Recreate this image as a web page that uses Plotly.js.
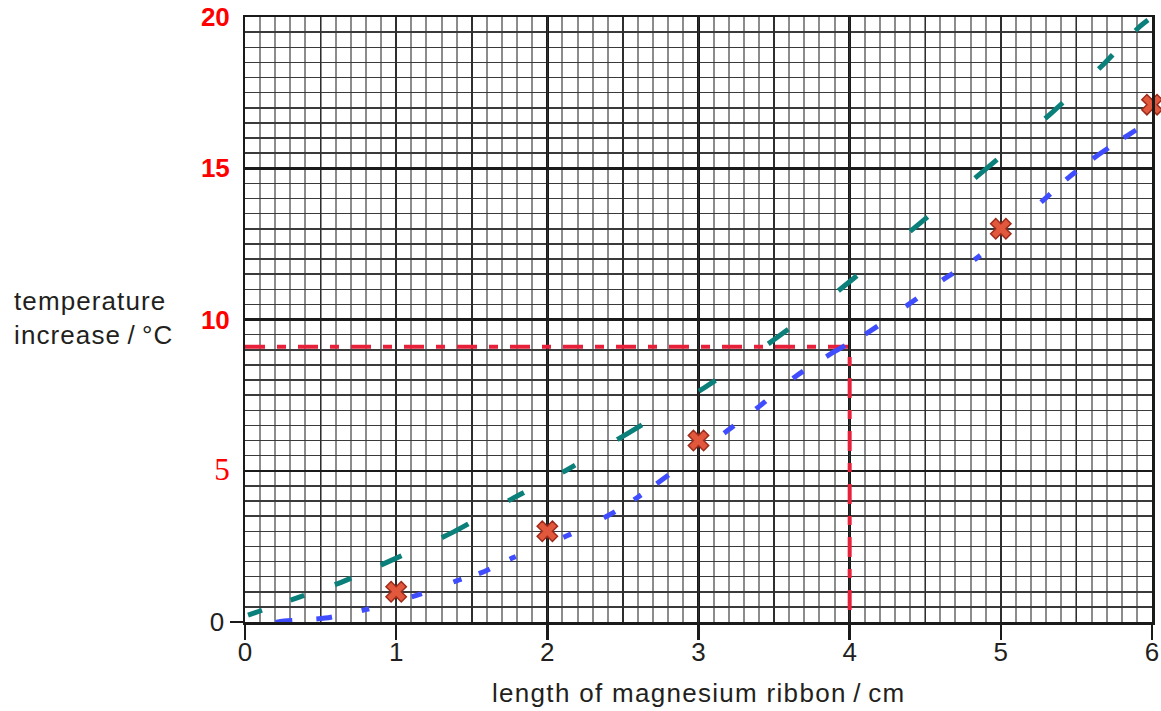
<!DOCTYPE html>
<html>
<head>
<meta charset="utf-8">
<script src="https://cdn.plot.ly/plotly-3.0.1.min.js"></script>
<style>html,body{margin:0;padding:0;background:#ffffff;}</style>
</head>
<body>
<div id="chart" style="width:1161px;height:711px;"></div>
<script>
// ---- data ----
const tealX = [0, 0.34, 0.64, 0.96, 1.38, 1.78, 2.12, 2.53, 3.04, 3.51, 3.97, 4.44, 4.89, 5.34, 5.68, 5.92, 6];
const tealY = [0.19, 0.79, 1.32, 2.02, 2.98, 4.11, 5.0, 6.23, 7.75, 9.37, 11.13, 13.08, 14.93, 16.85, 18.44, 19.69, 20.0];

const blueX = [0, 0.1, 0.26, 0.53, 0.79, 1.14, 1.4, 1.58, 1.77, 2.13, 2.41, 2.59, 2.75, 3.19, 3.4, 3.64, 3.89, 4.13, 4.39, 4.63, 4.83, 5.28, 5.45, 5.65, 5.84, 6];
const blueY = [-0.2, -0.1, 0.03, 0.13, 0.4, 0.89, 1.36, 1.66, 2.12, 2.85, 3.54, 4.1, 4.67, 6.32, 7.12, 8.11, 8.91, 9.6, 10.5, 11.36, 11.99, 13.94, 14.7, 15.46, 16.09, 16.6];

const readX = [0, 4, 4];
const readY = [9.1, 9.1, 0];

const pointX = [1, 2, 3, 5, 6];
const pointY = [1, 3, 6, 13, 17.1];

const xTickVals = [0, 1, 2, 3, 4, 5, 6];
const xTickText = ['0', '1', '2', '3', '4', '5', '6'];
const yZeroVals = [0];
const yZeroText = ['0'];
const yTickVals = [5, 10, 15, 20];
const yTickText = ['5', '10', '15', '20'];

const xTitle = 'length of magnesium ribbon\u2009/\u2009cm';
const yTitleLines = ['temperature', 'increase\u2009/\u2009°C'];

// ---- styling ----
const textFont = 'Liberation Sans, Arial, sans-serif';
const yTickHtml = yTickText.map(t => t === '5'
  ? "<span style=\"font-family:'Liberation Serif',serif;font-weight:normal;font-size:31px\">" + t + "</span>"
  : t);

const traces = [
  {
    x: readX, y: readY, xaxis: 'x', yaxis: 'y',
    mode: 'lines', hoverinfo: 'skip',
    line: {color: '#e8213b', width: 4, dash: '20px,12px,9px,12px'}
  },
  {
    x: blueX, y: blueY, xaxis: 'x2', yaxis: 'y2',
    mode: 'lines', hoverinfo: 'skip',
    line: {color: '#3f4dff', width: 5, shape: 'spline', smoothing: 0.8,
      dash: '6px,25px,17px,24px,16px,30px,8px,44px,11px,33px,9px,18px,12px,22px,7px,51px,9px,36px,13px,22px,9px,19px,15px,69px,13px,27px,13px,35px,13px,27px,22px,23px,15px,34px,14px,31px,13px,25px,8px,80px,13px,21px,13px,21px,19px,18px,15px,40px'}
  },
  {
    x: tealX, y: tealY, xaxis: 'x2', yaxis: 'y2',
    mode: 'lines', hoverinfo: 'skip',
    line: {color: '#0b7f7a', width: 5, shape: 'spline', smoothing: 0.8,
      dash: '0px,3px,15px,30px,15px,32px,18px,32px,23px,44px,30px,46px,18px,43px,15px,49px,29px,66px,20px,64px,25px,63px,24px,69px,23px,61px,29px,63px,24px,49px,20px,33px,17px,60px'}
  },
  {
    x: pointX, y: pointY, xaxis: 'x2', yaxis: 'y2',
    mode: 'markers', hoverinfo: 'skip', cliponaxis: false,
    marker: {symbol: 'x', size: 18, color: '#e2583c', line: {color: '#9e2b1b', width: 1.5}}
  }
];

const layout = {
  width: 1161, height: 711,
  margin: {l: 245, r: 9, t: 17, b: 89, pad: 0},
  paper_bgcolor: '#ffffff', plot_bgcolor: '#ffffff',
  showlegend: false,
  font: {family: textFont, color: '#231f20'},
  xaxis: {
    range: [0, 6], tickmode: 'array', tickvals: xTickVals, ticktext: xTickText,
    ticks: 'outside', ticklen: 15, tickwidth: 2.5, tickcolor: '#1a1a1a',
    ticklabelstandoff: -10,
    tickfont: {family: textFont, size: 26, color: '#231f20'},
    showline: true, linewidth: 2.5, linecolor: '#1a1a1a', mirror: true,
    showgrid: true, gridcolor: '#1a1a1a', gridwidth: 2.5, zeroline: false,
    minor: {tickmode: 'linear', tick0: 0, dtick: 0.1, showgrid: true, gridcolor: '#8c8c8c', gridwidth: 2, ticks: ''},
    fixedrange: true
  },
  xaxis2: {
    overlaying: 'x', anchor: 'y', range: [0, 6], tickmode: 'linear', tick0: 0, dtick: 0.5,
    showgrid: true, gridcolor: '#2e2e2e', gridwidth: 1.5, showticklabels: false, ticks: '',
    showline: false, zeroline: false, fixedrange: true
  },
  yaxis: {
    range: [0, 20], tickmode: 'array', tickvals: yZeroVals, ticktext: yZeroText,
    ticks: 'outside', ticklen: 13, tickwidth: 2.5, tickcolor: '#1a1a1a',
    tickfont: {family: textFont, size: 26, color: '#231f20'},
    showline: true, linewidth: 2.5, linecolor: '#1a1a1a', mirror: true,
    showgrid: false, zeroline: false,
    minor: {tickmode: 'linear', tick0: 0, dtick: 0.5, showgrid: true, gridcolor: '#3a3a3a', gridwidth: 1.5, ticks: ''},
    fixedrange: true
  },
  yaxis2: {
    overlaying: 'y', anchor: 'x', side: 'left', range: [0, 20],
    tickmode: 'array', tickvals: yTickVals, ticktext: yTickHtml,
    ticks: 'outside', ticklen: 9, tickcolor: 'rgba(0,0,0,0)',
    tickfont: {family: textFont, size: 26, color: '#ff0000', weight: 'bold'},
    showgrid: true, gridcolor: '#1a1a1a', gridwidth: 2.5,
    showline: false, zeroline: false, fixedrange: true
  },
  annotations: [
    {
      xref: 'paper', yref: 'paper', x: 0.5, y: -0.1175, xanchor: 'center', yanchor: 'middle',
      text: "<span style='letter-spacing:1.3px'>" + xTitle + "</span>", showarrow: false,
      font: {family: textFont, size: 26, color: '#231f20'}
    },
    {
      xref: 'paper', yref: 'paper', x: -0.2569, y: 0.502, xanchor: 'left', yanchor: 'middle', align: 'left',
      text: yTitleLines.map(s => "<span style='letter-spacing:1.1px'>" + s + "</span>").join('<br>'),
      showarrow: false,
      font: {family: textFont, size: 26, color: '#231f20'}
    }
  ]
};

Plotly.newPlot('chart', traces, layout, {staticPlot: true, displayModeBar: false});
</script>
</body>
</html>
